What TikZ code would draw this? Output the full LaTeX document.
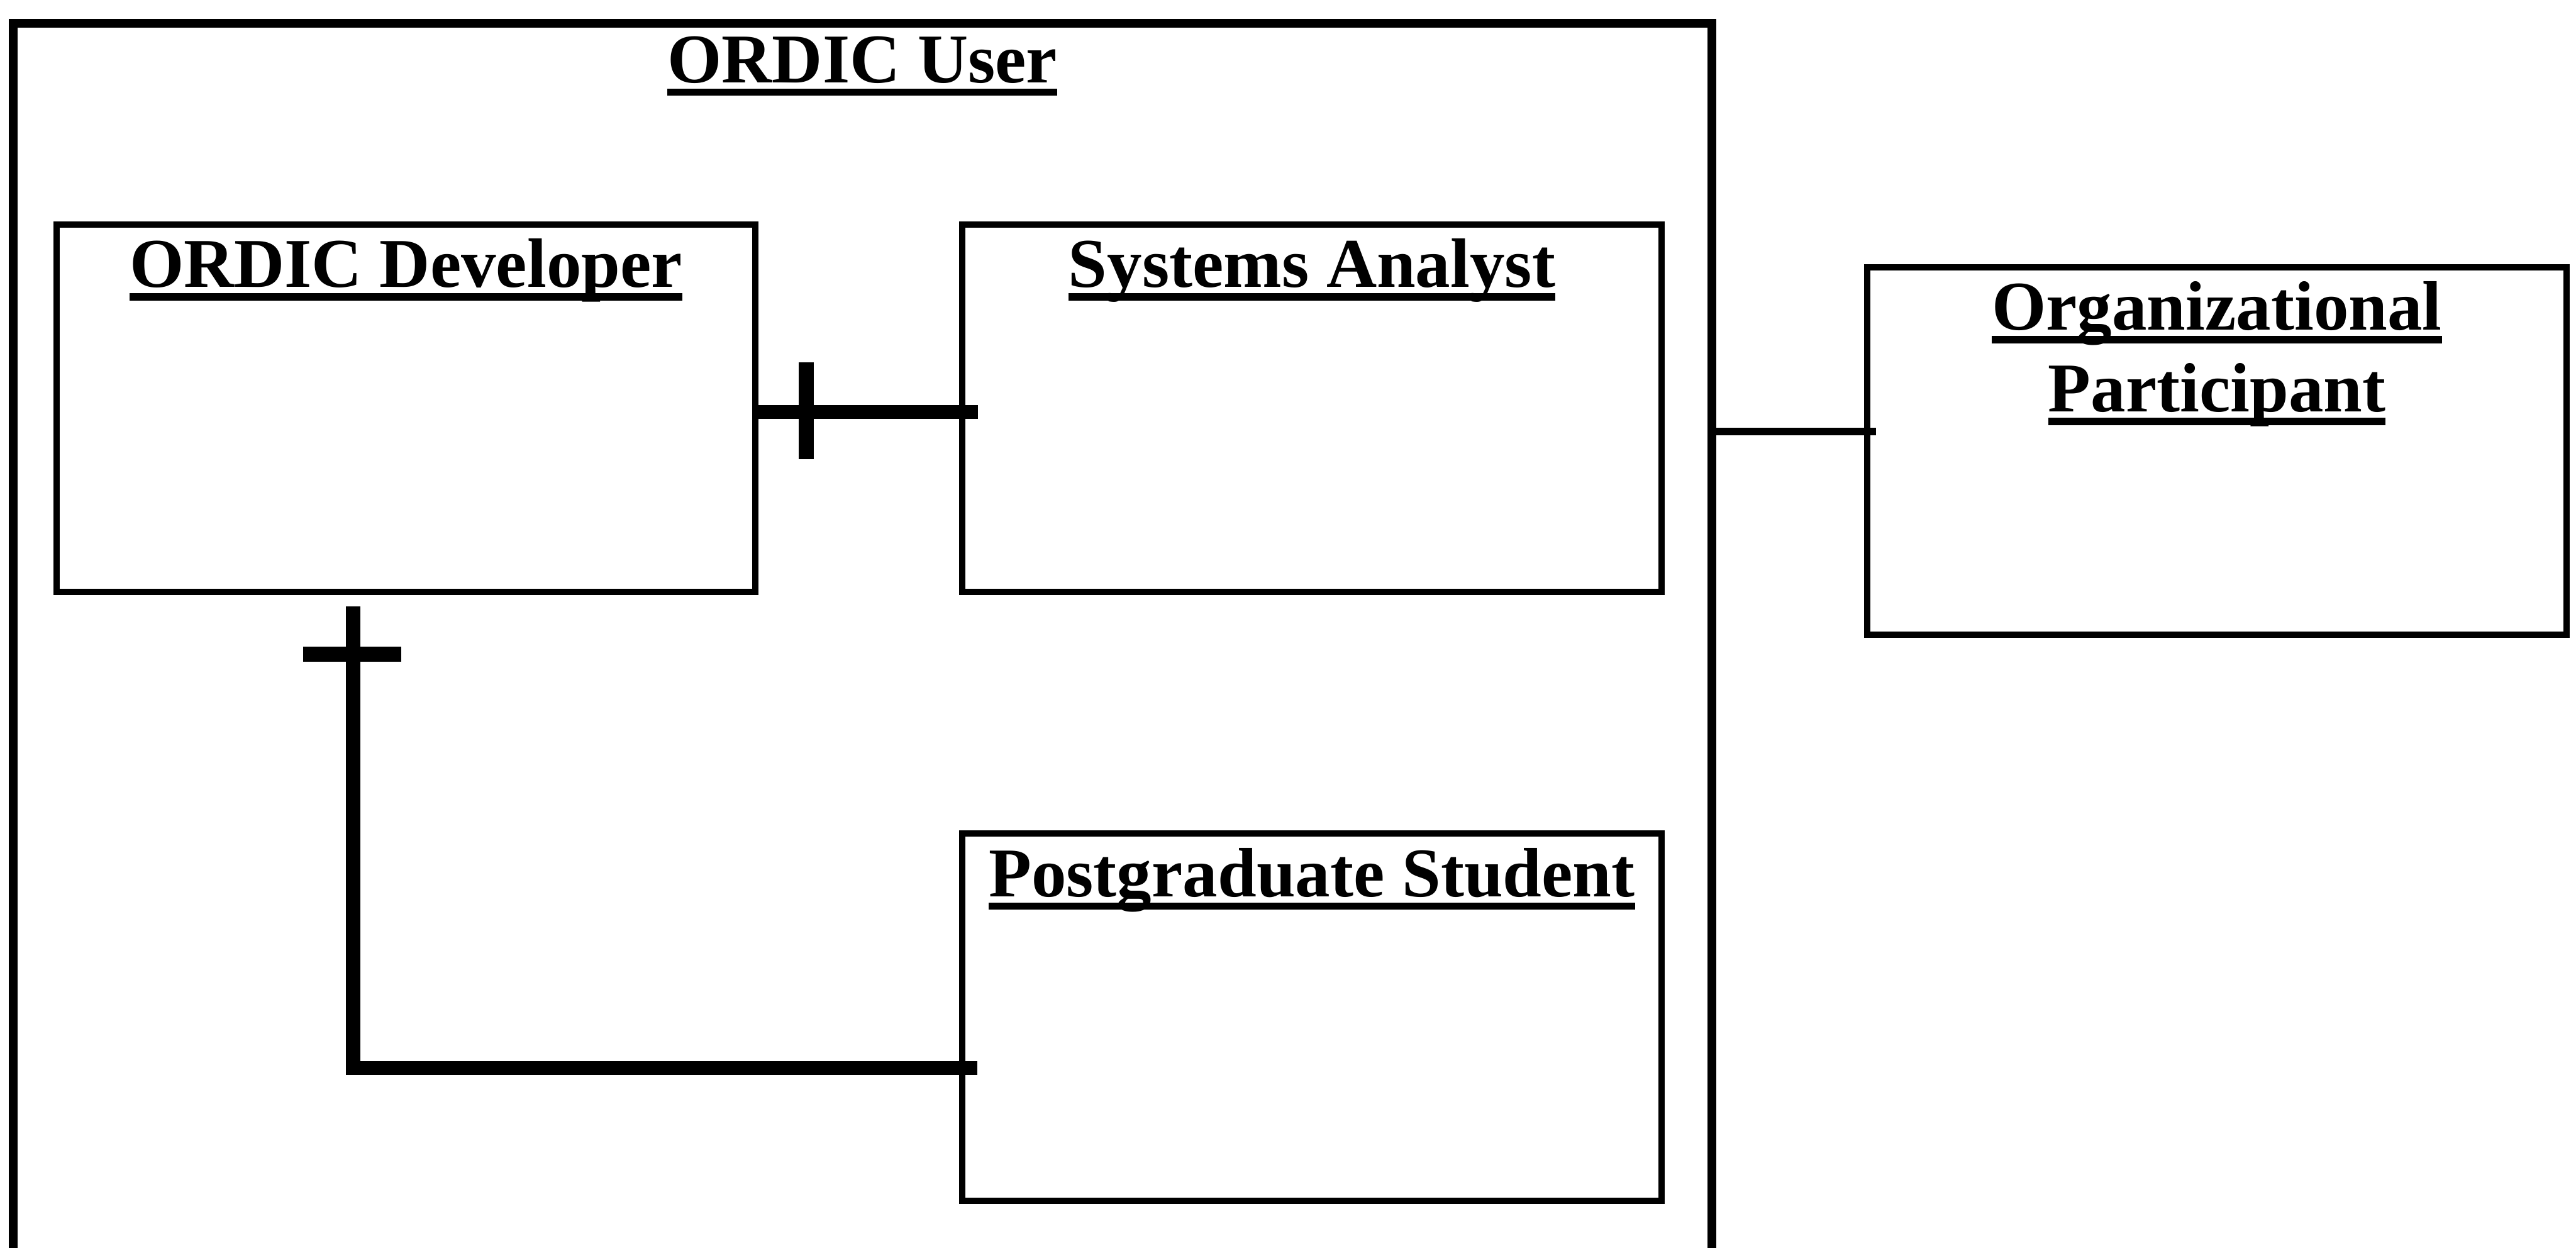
\documentclass[tikz,border=0pt]{standalone}
\usepackage{fontspec}
\setmainfont{Liberation Serif}
\usepackage{xcolor}
\usepackage{tikz}

\newcommand{\entitle}[1]{\setbox0=\hbox{#1}\rlap{\rule[-0.26cm]{\wd0}{0.14cm}}\box0}

\begin{document}
\begin{tikzpicture}[
    box/.style={draw,line width=3.6pt,minimum width=13.9cm,minimum height=7.3cm},
    boxtitle/.style={anchor=north,inner sep=0pt,yshift=-3.4mm,align=center,
      font=\fontsize{39.5}{46.2}\selectfont\bfseries},
    rel/.style={line width=#1},
    crossbar/.style={line width=8.5pt},
  ]
  \useasboundingbox (0,0) rectangle (51.21,24.8);

  \node[box,line width=4.8pt,minimum width=33.77cm,minimum height=24.64cm,
    label={[boxtitle]north:\entitle{ORDIC User}}] (user) at (17.145,12.02) {};

  \node[box,label={[boxtitle]north:\entitle{ORDIC Developer}}] (dev) at (8.07,16.685) {};
  \node[box,label={[boxtitle]north:\entitle{Systems Analyst}}] (ana) at (26.08,16.685) {};
  \node[box,label={[boxtitle]north:\entitle{Postgraduate Student}}] (pg) at (26.08,4.58) {};
  \node[box,label={[boxtitle]north:{\entitle{Organizational}\\\entitle{Participant}}}] (part) at (44.07,15.835) {};

  \draw[rel=7.9pt] ([yshift=-0.75mm]dev.east) -- ([xshift=3.8mm,yshift=-0.75mm]ana.west);
  \draw[crossbar] ([xshift=9.4mm,yshift=9.15mm]dev.east) -- ([xshift=9.4mm,yshift=-10.15mm]dev.east);

  \draw[rel=8pt] ([xshift=-10.5mm,yshift=-2.3mm]dev.south) |- ([xshift=3.6mm,yshift=-10.1mm]pg.west);
  \draw[crossbar] ([xshift=-20.4mm,yshift=-11.8mm]dev.south) -- ([xshift=-0.9mm,yshift=-11.8mm]dev.south);

  \coordinate (opin) at ([yshift=3.85mm]part.west);
  \draw[rel=4.3pt] (opin -| user.east) -- ([xshift=2.4mm]opin);
\end{tikzpicture}
\end{document}
